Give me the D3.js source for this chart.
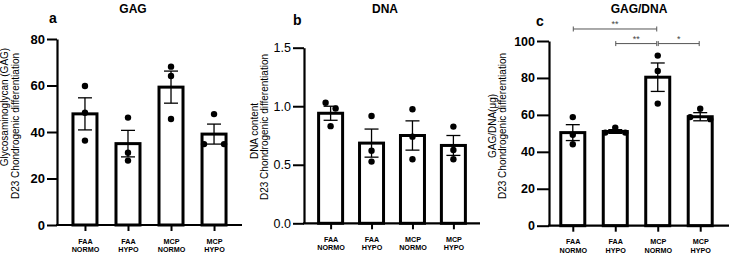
<!DOCTYPE html>
<html>
<head>
<meta charset="utf-8">
<script src="https://cdn.jsdelivr.net/npm/d3@7"></script>
<style>
  body { margin: 0; background: #fff; }
  svg { display: block; }
  text { font-family: "Liberation Sans", Arial, sans-serif; }
</style>
</head>
<body>
<svg id="chart" width="729" height="254"></svg>
<script>
// groups on the x axis
const categories = ['FAA NORMO', 'FAA HYPO', 'MCP NORMO', 'MCP HYPO']

// panel a: GAG
const gagMean = [47.8, 35.0, 59.3, 39.1]
const gagSem = [6.9, 5.7, 6.9, 4.3]
const gagPoints = [[59.8, 48.3, 36.3], [46.2, 31.1, 27.7], [68.1, 64.1, 45.6], [47.7, 34.8, 34.8]]
const gagTicks = [0, 20, 40, 60, 80]

// panel b: DNA
const dnaMean = [0.94, 0.685, 0.75, 0.665]
const dnaSem = [0.06, 0.12, 0.125, 0.085]
const dnaPoints = [[1.03, 0.98, 0.83], [0.917, 0.62, 0.527], [0.974, 0.74, 0.547], [0.826, 0.626, 0.547]]
const dnaTicks = [0.0, 0.5, 1.0, 1.5]

// panel c: GAG/DNA
const ratioMean = [50.4, 51.0, 80.4, 59.0]
const ratioSem = [4.3, 1.0, 7.7, 2.2]
const ratioPoints = [[58.8, 49.2, 44.1], [53.1, 50.4, 50.4], [92.1, 83.8, 66.1], [63.3, 57.7, 58.8]]
const ratioTicks = [0, 20, 40, 60, 80, 100]
// significance: [from group, to group, label, height in axis units]
const ratioSig = [[0, 2, '**', 106.5], [1, 2, '**', 98.6], [2, 3, '*', 98.6]]

const svg = d3.select('#chart')

const panels = [
  {
    letter: 'a', title: 'GAG', mean: gagMean, sem: gagSem, pts: gagPoints, ticks: gagTicks,
    fmt: d3.format('d'), tickWeight: 'bold', tickSize: 13, tickLen: 10,
    left: 57, right: 242, pad: 0.65, top: 39, bottom: 225,
    ylabel: ['Glycosaminoglycan (GAG)', 'D23 Chondrogenic differentiation'],
    labelX: [8, 18.5], labelY: [107, 126],
    titleX: 133, letterX: 49, letterY: 23, sig: []
  },
  {
    letter: 'b', title: 'DNA', mean: dnaMean, sem: dnaSem, pts: dnaPoints, ticks: dnaTicks,
    fmt: d3.format('.1f'), tickWeight: 'normal', tickSize: 12.5, tickLen: 11,
    left: 304, right: 480, pad: 0.65, top: 47.7, bottom: 223.3,
    ylabel: ['DNA content', 'D23 Chondrogenic differentiation'],
    labelX: [258, 268], labelY: [131, 127],
    titleX: 385, letterX: 293, letterY: 25, sig: []
  },
  {
    letter: 'c', title: 'GAG/DNA', mean: ratioMean, sem: ratioSem, pts: ratioPoints, ticks: ratioTicks,
    fmt: d3.format('d'), tickWeight: 'bold', tickSize: 12.5, tickLen: 12,
    left: 549, right: 724, axisEnd: 729, pad: 0.56, top: 41, bottom: 225.7,
    ylabel: ['GAG/DNA(\u03bcg)', 'D23 Chondrogenic differentiation'],
    labelX: [496, 506], labelY: [126, 126],
    titleX: 639, letterX: 536, letterY: 26, sig: ratioSig
  }
]

const dotR = 3.2
const swarmStep = 10
const barW = 24

panels.forEach(p => {
  const g = svg.append('g')

  const x = d3.scalePoint()
    .domain(categories)
    .range([p.left, p.right])
    .padding(p.pad)

  const y = d3.scaleLinear()
    .domain([p.ticks[0], p.ticks[p.ticks.length - 1]])
    .range([p.bottom, p.top])

  // bars
  g.selectAll('.bar')
    .data(p.mean)
    .enter().append('rect')
    .attr('x', (d, i) => x(categories[i]) - barW / 2)
    .attr('y', d => y(d))
    .attr('width', barW)
    .attr('height', d => y(0) - y(d))
    .attr('fill', '#fff')
    .attr('stroke', '#000')
    .attr('stroke-width', 3)

  // SEM error bars
  const err = g.selectAll('.err')
    .data(p.mean.map((m, i) => ({m, s: p.sem[i], c: categories[i]})))
    .enter().append('g')
  err.append('line')
    .attr('x1', d => x(d.c)).attr('x2', d => x(d.c))
    .attr('y1', d => y(d.m - d.s)).attr('y2', d => y(d.m + d.s))
    .attr('stroke', '#000').attr('stroke-width', 1.3)
  err.selectAll('.cap')
    .data(d => [d.m + d.s, d.m - d.s].map(v => ({v, c: d.c})))
    .enter().append('line')
    .attr('x1', d => x(d.c) - 7).attr('x2', d => x(d.c) + 7)
    .attr('y1', d => y(d.v)).attr('y2', d => y(d.v))
    .attr('stroke', '#000').attr('stroke-width', 1.3)

  // individual points, spread sideways when they overlap
  const dots = []
  p.pts.forEach((vals, i) => {
    const cx = x(categories[i])
    const sorted = vals.map(v => ({v, py: y(v)})).sort((a, b) => a.py - b.py)
    let cluster = []
    const flush = () => {
      const n = cluster.length
      let offs
      if (n === 1) offs = [0]
      else if (n === 2) {
        // nearly identical points go further apart
        const half = Math.abs(cluster[1].py - cluster[0].py) < dotR ? swarmStep : swarmStep / 2
        offs = [-half, half]
      } else offs = [0, -swarmStep, swarmStep, -2 * swarmStep, 2 * swarmStep].slice(0, n)
      cluster.forEach((d, k) => dots.push({cx: cx + offs[k], cy: d.py}))
      cluster = []
    }
    sorted.forEach(d => {
      if (cluster.length && d.py - cluster[cluster.length - 1].py > dotR * 2.1) flush()
      cluster.push(d)
    })
    flush()
  })
  g.selectAll('.dot')
    .data(dots)
    .enter().append('circle')
    .attr('cx', d => d.cx)
    .attr('cy', d => d.cy)
    .attr('r', dotR)
    .attr('fill', '#000')

  // y axis
  const yAxis = g.append('g')
    .attr('transform', `translate(${p.left},0)`)
    .call(d3.axisLeft(y).tickValues(p.ticks).tickFormat(p.fmt).tickSize(p.tickLen).tickSizeOuter(0).tickPadding(2))
  yAxis.select('.domain').attr('stroke-width', 2.2)
  yAxis.selectAll('.tick line').attr('stroke-width', 2)
  yAxis.selectAll('.tick text')
    .attr('font-size', p.tickSize)
    .attr('font-weight', p.tickWeight)
    .attr('font-family', '"Liberation Sans", Arial, sans-serif')
    .attr('fill', '#000')

  // x axis
  const xAxis = g.append('g')
    .attr('transform', `translate(0,${p.bottom})`)
    .call(d3.axisBottom(x).tickSize(6).tickSizeOuter(0).tickFormat(''))
  xAxis.select('.domain').remove()
  xAxis.selectAll('.tick line').attr('stroke-width', 2)
  xAxis.append('line')
    .attr('x1', p.left - 1).attr('x2', p.axisEnd || p.right)
    .attr('stroke', '#000').attr('stroke-width', 2.2)
  xAxis.selectAll('.tick').append('text')
    .attr('fill', '#000')
    .attr('font-size', 7.2)
    .attr('font-weight', 'bold')
    .attr('text-anchor', 'middle')
    .selectAll('tspan')
    .data(d => d.split(' '))
    .enter().append('tspan')
    .attr('x', 0)
    .attr('y', (d, i) => 18.5 + i * 8.5)
    .text(d => d)

  // y axis label (two lines)
  p.ylabel.forEach((t, i) => {
    g.append('text')
      .attr('transform', `translate(${p.labelX[i]},${p.labelY[i]}) rotate(-90)`)
      .attr('text-anchor', 'middle')
      .attr('font-size', 10)
      .attr('fill', '#000')
      .text(t)
  })

  // title and panel letter
  g.append('text')
    .attr('x', p.titleX).attr('y', 12.5)
    .attr('text-anchor', 'middle')
    .attr('font-size', 12)
    .attr('font-weight', 'bold')
    .text(p.title)
  g.append('text')
    .attr('x', p.letterX).attr('y', p.letterY)
    .attr('font-size', 14)
    .attr('font-weight', 'bold')
    .text(p.letter)

  // significance brackets
  p.sig.forEach(([a, b, label, h]) => {
    const x1 = x(categories[a]) + 0.5
    const x2 = x(categories[b]) - 1
    const yy = y(h)
    const sg = g.append('g').attr('stroke', '#555').attr('stroke-width', 1)
    sg.append('line').attr('x1', x1).attr('x2', x2).attr('y1', yy).attr('y2', yy)
    sg.append('line').attr('x1', x1).attr('x2', x1).attr('y1', yy - 2.5).attr('y2', yy + 2.5)
    sg.append('line').attr('x1', x2).attr('x2', x2).attr('y1', yy - 2.5).attr('y2', yy + 2.5)
    g.append('text')
      .attr('x', (x1 + x2) / 2).attr('y', yy - 2)
      .attr('text-anchor', 'middle')
      .attr('font-size', 9)
      .attr('fill', '#444')
      .text(label)
  })
})
</script>
</body>
</html>
